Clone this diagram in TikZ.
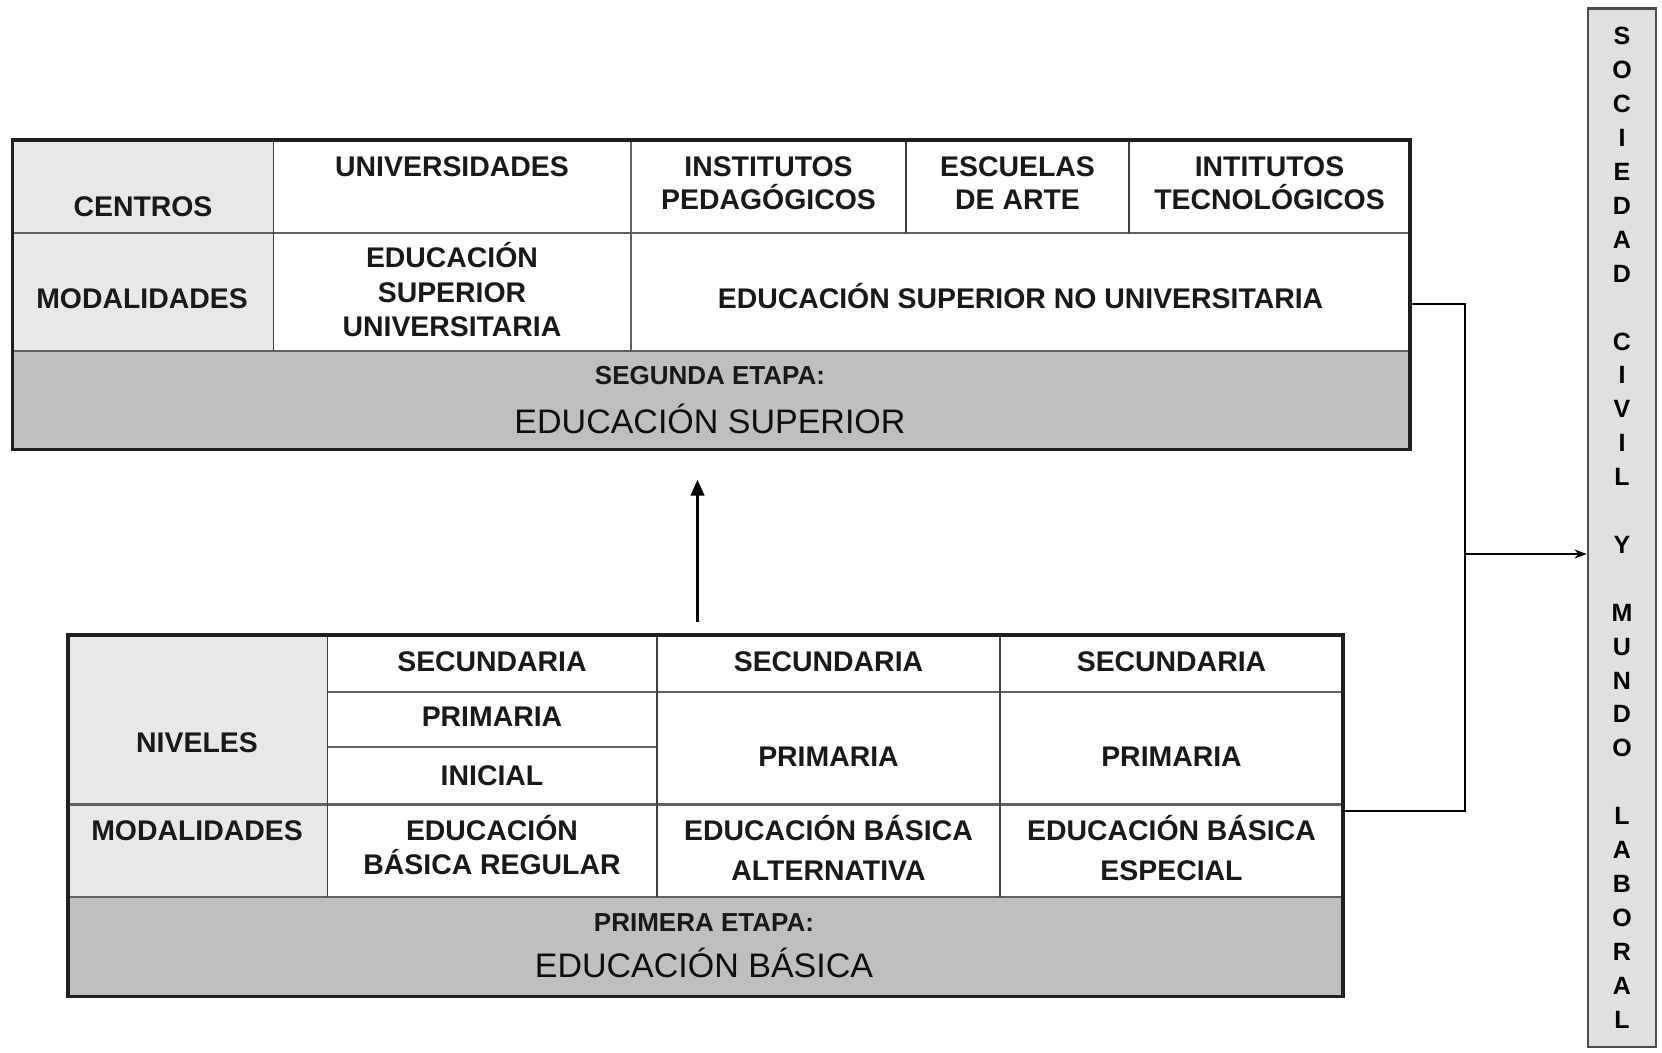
\documentclass[tikz,border=0pt]{standalone}
\usepackage{fontspec}
\setmainfont{Liberation Sans}
\usetikzlibrary{arrows.meta}
\tikzset{
  lbl/.style={font=\fontsize{28.4}{34}\selectfont\bfseries, align=center, inner sep=0pt, anchor=base, text=black!90},
  lblw/.style={lbl, font=\fontsize{28.4}{40}\selectfont\bfseries},
  sub/.style={font=\fontsize{26}{30}\selectfont\bfseries, inner sep=0pt, anchor=base, text=black!90},
  big/.style={font=\fontsize{34}{40}\selectfont, inner sep=0pt, anchor=base, text=black!95},
  frame/.style={draw=black!88, line width=3.5pt, inner sep=0pt, outer sep=0pt},
  gridline/.style={draw=black!62, line width=2.6pt},
  thinline/.style={draw=black!75, line width=1.8pt},
  hdr/.style={fill=black!9},
  band/.style={fill=black!25},
  conn/.style={line width=2.6pt, draw=black},
}
\begin{document}
\begin{tikzpicture}[x=1pt,y=-1pt]
\useasboundingbox[fill=white] (0,0) rectangle (1662,1052);

% ---------- top box: EDUCACION SUPERIOR ----------
\fill[hdr] (12.7,140) rectangle (273.5,351);
\fill[white] (273.5,140) rectangle (1410,351);
\fill[band] (12.7,351) rectangle (1410,449.5);
\draw[gridline] (12.7,233) -- (1410,233);
\draw[gridline] (12.7,351) -- (1410,351);
\draw[thinline] (273.5,140) -- (273.5,351);
\draw[gridline] (631,140) -- (631,351);
\draw[thinline] (906,140) -- (906,233);
\draw[thinline] (1129,140) -- (1129,233);
\node[frame, minimum width=1397.3pt, minimum height=309.5pt] (sup) at (711.35,294.75) {};

% multi-line nodes: anchor=base is the baseline of the last line
\node[lbl] (centros) at (143,216) {CENTROS};
\node[lbl] (modsup) at (142,308) {MODALIDADES};
\node[lbl] (univ) at (452,176) {UNIVERSIDADES};
\node[lbl, font=\fontsize{28.4}{33}\selectfont\bfseries] (ipedag) at (768.5,209) {INSTITUTOS\\PEDAGÓGICOS};
\node[lbl, font=\fontsize{28.4}{33}\selectfont\bfseries] (earte) at (1017.5,209) {ESCUELAS\\DE ARTE};
\node[lbl, font=\fontsize{28.4}{33}\selectfont\bfseries] (itec) at (1269.5,209) {INTITUTOS\\TECNOLÓGICOS};
\node[lbl, font=\fontsize{28.4}{34.5}\selectfont\bfseries] (esu) at (452,336.5) {EDUCACIÓN\\SUPERIOR\\UNIVERSITARIA};
\node[lbl] (esnu) at (1020.5,308) {EDUCACIÓN SUPERIOR NO UNIVERSITARIA};
\node[sub] (etapa2) at (710,384) {SEGUNDA ETAPA:};
\node[big] (es) at (710,433) {EDUCACIÓN SUPERIOR};

% ---------- bottom box: EDUCACION BASICA ----------
\fill[hdr] (67.8,635) rectangle (327.5,897);
\fill[white] (327.5,635) rectangle (1343,897);
\fill[band] (67.8,897) rectangle (1343,996.4);
\draw[gridline] (327.5,692) -- (1343,692);
\draw[gridline] (327.5,747) -- (657,747);
\draw[gridline] (67.8,804.5) -- (1343,804.5);
\draw[gridline] (67.8,897) -- (1343,897);
\draw[thinline] (327.5,635) -- (327.5,897);
\draw[thinline] (657,635) -- (657,897);
\draw[thinline] (1000,635) -- (1000,897);
\node[frame, minimum width=1275.2pt, minimum height=361.4pt] (bas) at (705.4,815.7) {};

\node[lbl] (niveles) at (197,752) {NIVELES};
\node[lbl] (modbas) at (197,840) {MODALIDADES};
\node[lbl] (sec1) at (492,671) {SECUNDARIA};
\node[lbl] (sec2) at (828.5,671) {SECUNDARIA};
\node[lbl] (sec3) at (1171.5,671) {SECUNDARIA};
\node[lbl] (pri1) at (492,726.6) {PRIMARIA};
\node[lbl] (ini) at (492,785) {INICIAL};
\node[lbl] (pri2) at (828.5,766) {PRIMARIA};
\node[lbl] (pri3) at (1171.5,766) {PRIMARIA};
\node[lbl] (ebr) at (492,874) {EDUCACIÓN\\BÁSICA REGULAR};
\node[lblw] (eba) at (828.5,880) {EDUCACIÓN BÁSICA\\ALTERNATIVA};
\node[lblw] (ebe) at (1171.5,880) {EDUCACIÓN BÁSICA\\ESPECIAL};
\node[sub] (etapa1) at (704,931) {PRIMERA ETAPA:};
\node[big] (eb) at (704,977) {EDUCACIÓN BÁSICA};

% ---------- right box ----------
\node[draw=black!70, line width=2.8pt, fill=black!12, minimum width=68pt, minimum height=1038.5pt,
      inner sep=0pt, align=center, font=\fontsize{25}{33.9}\selectfont\bfseries] (soc) at (1622,527.75)
  {S\\O\\C\\I\\E\\D\\A\\D\\~\\C\\I\\V\\I\\L\\~\\Y\\~\\M\\U\\N\\D\\O\\~\\L\\A\\B\\O\\R\\A\\L};

% ---------- connectors ----------
\coordinate (ax) at (697.5,0);
\draw[conn, line width=3.5pt, -{Triangle[length=16pt,width=13pt]}, shorten <=13pt, shorten >=30pt]
  (bas.north -| ax) -- (sup.south -| ax);

\coordinate (bustop) at (1465,304);
\coordinate (busbot) at (1465,811);
\coordinate (busmid) at (1465,554);
\draw[conn] (sup.east |- bustop) -- (bustop) -- (busbot) -- (bas.east |- busbot);
\draw[conn, -{Stealth[length=12pt,width=9pt]}] (busmid) -- (soc.west |- busmid);
\end{tikzpicture}
\end{document}
